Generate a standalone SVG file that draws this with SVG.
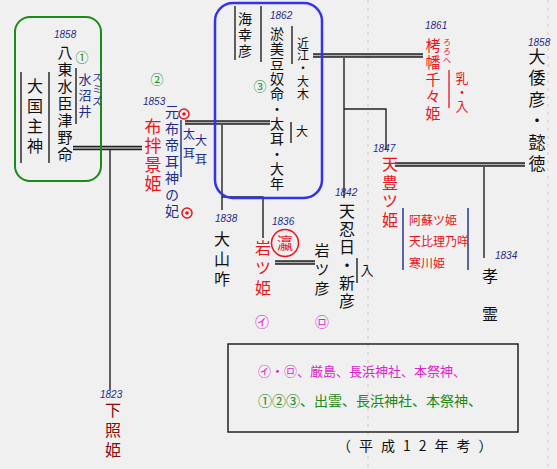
<svg xmlns="http://www.w3.org/2000/svg" width="557" height="469" viewBox="0 0 557 469">
<style>
text{font-family:"Noto Sans CJK JP","Noto Sans",sans-serif;}
.v{writing-mode:vertical-rl;}
.k{fill:#111;}
.r{fill:#e8141e;}
.b{fill:#1f2a8a;}
.g{fill:#1a8a1a;}
.p{fill:#dd22cc;}
.yr{font-size:10px;font-style:italic;fill:#1f2a8a;font-family:"Liberation Sans",sans-serif;}
.dbl{stroke:#222;stroke-width:4.5;fill:none;}
.dbi{stroke:#b0b0b0;stroke-width:1.5;fill:none;}
.ln{stroke:#222;stroke-width:1.4;fill:none;}
.bl{stroke:#1f2a8a;stroke-width:1.4;fill:none;}
</style>
<rect width="557" height="469" fill="#f0f0f0"/>
<line x1="368" y1="0" x2="368" y2="469" stroke="#dcc4c4" stroke-width="1" stroke-dasharray="3 5"/>
<line x1="548" y1="0" x2="548" y2="469" stroke="#dcc4c4" stroke-width="1" stroke-dasharray="3 5"/>

<g id="connectors">
  <path class="dbl" d="M73,148H142 M185,122.5H270 M313,55.5H423 M395,164.5H525 M275,262.5H315"/>
  <path class="dbi" d="M73,148H142 M185,122.5H270 M313,55.5H423 M395,164.5H525 M275,262.5H315"/>
  <path class="ln" d="M110,150V390 M222,125V210 M222,197H263V238 M344,58V198 M344,109H386V150 M484,167V258"/>
</g>

<g id="box-izumo1">
  <rect x="15" y="17" width="86" height="164" rx="15" fill="none" stroke="#1a8a1a" stroke-width="2"/>
  <text class="yr" x="54" y="38">1858</text>
  <text class="v k" x="65" y="45" font-size="15" letter-spacing="2">八東水臣津野命</text>
  <text class="g" x="82" y="62" font-size="13" text-anchor="middle">①</text>
  <text class="v b" x="85" y="73" font-size="13" letter-spacing="3">水沼井</text>
  <text class="v b" x="97" y="72" font-size="10" letter-spacing="2">スミズ</text>
  <text class="v k" x="35" y="78" font-size="16" letter-spacing="4">大国主神</text>
  <path class="ln" d="M21,72V163 M49,72V163 M76,68V124"/>
</g>

<g id="node-shitateru">
  <text class="yr" x="100" y="398">1823</text>
  <text class="v" x="113" y="402" font-size="16" letter-spacing="4" fill="#8b0a0a">下照姫</text>
</g>

<g id="node-funo">
  <text class="g" x="157" y="84" font-size="13" text-anchor="middle">②</text>
  <text class="yr" x="143" y="105">1853</text>
  <text class="v r" x="153" y="118" font-size="17" letter-spacing="2">布拌景姫</text>
  <text class="v b" x="172" y="105" font-size="14" letter-spacing="2.5">元布帝耳神の妃</text>
  <circle cx="184" cy="114" r="5" fill="none" stroke="#e8141e" stroke-width="1.5"/>
  <circle cx="184" cy="114" r="1.8" fill="#e8141e"/>
  <circle cx="187" cy="213" r="5" fill="none" stroke="#e8141e" stroke-width="1.5"/>
  <circle cx="187" cy="213" r="1.8" fill="#e8141e"/>
  <path class="bl" d="M181,120V177"/>
  <text class="v b" x="189" y="128" font-size="12" letter-spacing="7">太耳</text>
  <text class="v b" x="201" y="134" font-size="12" letter-spacing="7">大耳</text>
</g>

<g id="box-omizunu">
  <rect x="215" y="3" width="107" height="195" rx="18" fill="none" stroke="#3333ee" stroke-width="2.5"/>
  <path class="ln" d="M235,6V60 M261,6V62 M292,26V64 M291,122V143"/>
  <text class="v k" x="245" y="12" font-size="14" letter-spacing="2">海幸彦</text>
  <text class="yr" x="270" y="19">1862</text>
  <text class="v k" x="277" y="27" font-size="14" letter-spacing="1">淤美豆奴命・太耳・大年</text>
  <text class="v k" x="303" y="37" font-size="12" letter-spacing="0.8">近江・大木</text>
  <text class="k" x="302" y="136" font-size="12" text-anchor="middle">大</text>
  <text class="g" x="260" y="91" font-size="13" text-anchor="middle">③</text>
</g>

<g id="node-takuhata">
  <text class="yr" x="425" y="29">1861</text>
  <text class="v r" x="433" y="38" font-size="15" letter-spacing="2">栲幡千々姫</text>
  <text class="v r" x="447" y="38" font-size="8" letter-spacing="1">ろろへ</text>
  <path d="M449,70V108" stroke="#e8141e" stroke-width="1.3"/>
  <text class="v r" x="462" y="72" font-size="13" letter-spacing="1">乳・入</text>
</g>

<g id="node-itoku">
  <text class="yr" x="528" y="46">1858</text>
  <text class="v k" x="537" y="48" font-size="17" letter-spacing="4.5">大倭彦・懿徳</text>
</g>

<g id="node-amatoyo">
  <text class="yr" x="373" y="152">1847</text>
  <text class="v r" x="390" y="156" font-size="16" letter-spacing="2.5">天豊ツ姫</text>
</g>

<g id="node-wives">
  <path class="bl" d="M403,208V270 M468,208V270"/>
  <text class="r" x="409" y="225" font-size="12">阿蘇ツ姫</text>
  <text class="r" x="409" y="246" font-size="12">天比理乃咩</text>
  <text class="r" x="409" y="268" font-size="12">寒川姫</text>
</g>

<g id="node-kosho">
  <text class="yr" x="495" y="259">1834</text>
  <text class="v k" x="490" y="268" font-size="16" letter-spacing="22">孝霊</text>
</g>

<g id="node-oshihi">
  <text class="yr" x="335" y="196">1842</text>
  <text class="v k" x="347" y="203" font-size="16" letter-spacing="2">天忍日・新彦</text>
  <path class="ln" d="M357,258V283"/>
  <text class="k" x="367" y="275" font-size="13" text-anchor="middle">入</text>
</g>

<g id="node-oyamakui">
  <text class="yr" x="215" y="222">1838</text>
  <text class="v k" x="222" y="231" font-size="16" letter-spacing="4">大山咋</text>
</g>

<g id="node-iwatsuhime">
  <text class="yr" x="272" y="225">1836</text>
  <circle cx="285" cy="243" r="13.5" fill="none" stroke="#e8141e" stroke-width="1.5"/>
  <text class="r" x="285" y="249" font-size="16" text-anchor="middle">瀛</text>
  <text class="v r" x="263" y="240" font-size="16" letter-spacing="4">岩ツ姫</text>
  <text class="p" x="262" y="327" font-size="14" text-anchor="middle">㋑</text>
</g>

<g id="node-iwatsuhiko">
  <text class="v k" x="322" y="243" font-size="15" letter-spacing="4">岩ツ彦</text>
  <text class="p" x="322" y="327" font-size="14" text-anchor="middle">㋺</text>
</g>

<g id="legend">
  <rect x="228" y="344" width="290" height="88" fill="none" stroke="#222" stroke-width="1.5"/>
  <text class="p" x="258" y="376" font-size="13">㋑・㋺、厳島、長浜神社、本祭神、</text>
  <text class="g" x="258" y="406" font-size="14">①②③、出雲、長浜神社、本祭神、</text>
</g>

<text class="k" x="337" y="451" font-size="14" letter-spacing="8">（平成12年考）</text>
</svg>
